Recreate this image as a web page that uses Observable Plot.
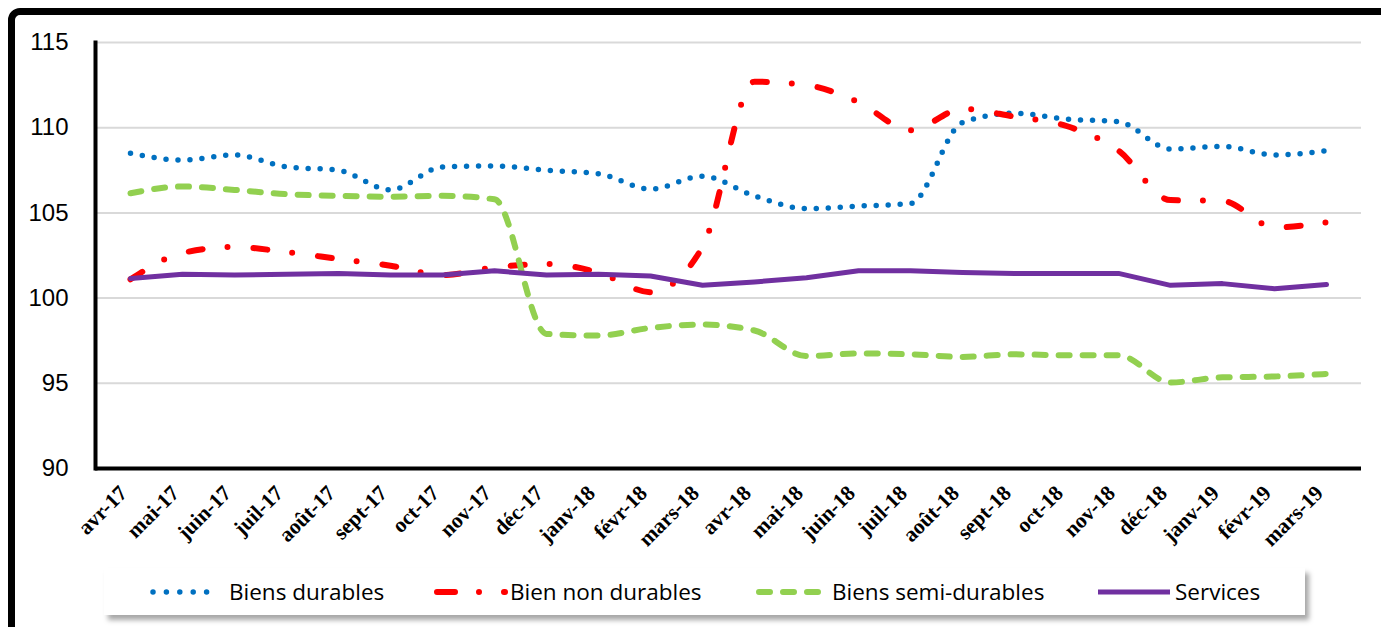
<!DOCTYPE html>
<html>
<head>
<meta charset="utf-8">
<script src="https://cdn.jsdelivr.net/npm/d3@7"></script>
<script src="https://cdn.jsdelivr.net/npm/@observablehq/plot@0.6"></script>
<style>
html,body{margin:0;padding:0;background:#fff;overflow:hidden;width:1381px;height:627px;}
#frame{position:absolute;left:8px;top:8px;width:1430px;height:720px;border:7px solid #000;border-radius:12px;box-sizing:border-box;}
#chart{position:absolute;left:0;top:0;}
#legend{position:absolute;left:104px;top:568px;width:1201px;height:47px;background:#fff;box-shadow:4px 5px 5px rgba(0,0,0,0.35);}
#legend .sw{position:absolute;top:0;}
#legend .lb{position:absolute;top:0;line-height:47px;font-family:"Open Sans",sans-serif;font-size:22.5px;color:#000;white-space:nowrap;}
</style>
</head>
<body>
<div id="frame"></div>
<div id="chart"></div>
<div id="legend"></div>
<script>
// ---- data ----
const months = ["avr-17","mai-17","juin-17","juil-17","août-17","sept-17","oct-17","nov-17","déc-17",
  "janv-18","févr-18","mars-18","avr-18","mai-18","juin-18","juil-18","août-18","sept-18","oct-18",
  "nov-18","déc-18","janv-19","févr-19","mars-19"];
const biensDurables = [108.5,108.1,108.4,107.7,107.5,106.35,107.7,107.75,107.5,107.3,106.4,107.15,
  106.0,105.25,105.4,105.55,110.3,110.85,110.5,110.35,108.75,108.9,108.4,108.65];
const biensNonDurables = [101.1,102.65,103.0,102.7,102.3,101.9,101.35,101.8,102.0,101.5,100.35,103.0,
  112.7,112.5,111.5,109.85,111.1,110.65,110.1,108.65,105.75,105.7,104.15,104.45];
const biensSemiDurables = [106.15,106.55,106.35,106.1,106.0,105.95,106.0,105.8,97.9,97.8,98.25,98.45,
  98.1,96.6,96.75,96.7,96.55,96.7,96.65,96.65,95.05,95.35,95.4,95.55];
const services = [101.15,101.4,101.35,101.4,101.45,101.35,101.35,101.6,101.35,101.4,101.3,100.75,
  100.95,101.2,101.6,101.6,101.5,101.45,101.45,101.45,100.75,100.85,100.55,100.8];
const yTicks = [90,95,100,105,110,115];
const seriesNames = ["Biens durables","Bien non durables","Biens semi-durables","Services"];
const seriesColors = ["#0070C0","#FF0000","#92D050","#7030A0"];

// ---- styles ----
const seriesValues = [biensDurables, biensNonDurables, biensSemiDurables, services];
const lineStyles = [
  {strokeWidth:5.5, strokeDasharray:"0 12", curve:"monotone-x"},
  {strokeWidth:6, strokeDasharray:"14 25 0 26", curve:"monotone-x"},
  {strokeWidth:6, strokeDasharray:"11 13", curve:"monotone-x"},
  {strokeWidth:5, strokeDasharray:null, curve:"linear"}
];

const rows = (vals) => months.map((m, i) => ({month: m, value: vals[i]}));

const lineMarks = seriesValues.map((vals, k) => Plot.line(rows(vals), {
  x: "month", y: "value",
  stroke: seriesColors[k],
  strokeWidth: lineStyles[k].strokeWidth,
  strokeDasharray: lineStyles[k].strokeDasharray,
  strokeLinecap: "round",
  strokeLinejoin: "round",
  curve: lineStyles[k].curve
}));

const chart = Plot.plot({
  width: 1381, height: 560,
  marginLeft: 95, marginRight: 20, marginTop: 42, marginBottom: 92,
  style: {background: "transparent", color: "#000", overflow: "visible"},
  x: {type: "point", domain: months, padding: 0.5, axis: null, label: null},
  y: {domain: [90, 115], axis: null, label: null},
  marks: [
    Plot.gridY(yTicks.slice(1), {stroke: "#d9d9d9", strokeOpacity: 1, strokeWidth: 2}),
    Plot.axisY(yTicks, {tickSize: 0, tickPadding: 27, fontSize: 24, fontFamily: "Liberation Sans", fill: "#000", label: null}),
    ...lineMarks,
    Plot.ruleY([90], {stroke: "#000", strokeWidth: 4}),
    Plot.frame({anchor: "left", stroke: "#000", strokeWidth: 4}),
    Plot.text(months, {x: d => d, frameAnchor: "bottom", rotate: -45, textAnchor: "end", lineAnchor: "middle",
      dx: -7, dy: 21, fontSize: 21.5, fontWeight: "bold", fontFamily: "Liberation Serif", fill: "#000"})
  ]
});
document.getElementById("chart").appendChild(chart);

// ---- legend ----
const legend = document.getElementById("legend");
const swatchX = [46, 330, 652, 994];
const swatchW = [70, 74, 66, 72];
const labelX = [125, 406, 728, 1071];
const legendDash = ["0 13.4", "18 24 0 25", "11 13", null];
seriesNames.forEach((name, k) => {
  const w = swatchW[k];
  const svg = d3.create("svg").attr("class", "sw").attr("width", w + 6).attr("height", 47)
    .style("left", (swatchX[k] - 3) + "px");
  svg.append("line")
    .attr("x1", 3 + (k === 3 ? 0 : 3)).attr("x2", 3 + w - (k === 3 ? 0 : 3))
    .attr("y1", 24).attr("y2", 24)
    .attr("stroke", seriesColors[k])
    .attr("stroke-width", lineStyles[k].strokeWidth)
    .attr("stroke-linecap", k === 3 ? "butt" : "round")
    .attr("stroke-dasharray", legendDash[k]);
  legend.appendChild(svg.node());
  const lb = document.createElement("div");
  lb.className = "lb";
  lb.style.left = labelX[k] + "px";
  lb.textContent = name;
  legend.appendChild(lb);
});
</script>
</body>
</html>
